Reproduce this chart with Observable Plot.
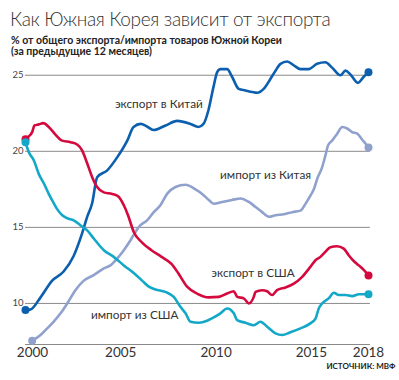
<!DOCTYPE html>
<html>
<head>
<meta charset="utf-8">
<script src="https://cdn.jsdelivr.net/npm/d3@7"></script>
<script src="https://cdn.jsdelivr.net/npm/@observablehq/plot@0.6"></script>
<style>
  html, body { margin: 0; padding: 0; background: #fff; }
  #wrap { position: relative; width: 399px; height: 380px; overflow: hidden; font-family: Lato, "Open Sans", sans-serif; }
  #title { position: absolute; left: 10px; top: 8px; font-size: 19px; line-height: 21px; font-weight: 300; letter-spacing: -0.35px; color: #333; white-space: nowrap; }
  #sub { position: absolute; left: 11px; top: 35px; font-size: 10.5px; line-height: 11px; font-weight: 700; color: #222; white-space: nowrap; }
  #chart { position: absolute; left: 0; top: 56px; }
</style>
</head>
<body>
<div id="wrap">
  <div id="title">Как Южная Корея зависит от экспорта</div>
  <div id="sub">% от общего экспорта/импорта товаров Южной Кореи<br>(за предыдущие 12 месяцев)</div>
  <div id="chart"></div>
</div>
<script>
// Export to China
const exportChinaYears = [2000.0,2000.26,2000.79,2001.4,2002.0,2002.52,2002.97,2003.24,2003.5,2003.76,2004.29,2004.81,2005.34,2005.67,2006.05,2006.35,2006.72,2007.35,2007.96,2008.66,2009.08,2009.34,2009.6,2009.86,2010.06,2010.23,2010.58,2010.84,2011.19,2011.54,2011.9,2012.16,2012.5,2012.85,2013.12,2013.38,2013.73,2014.08,2014.43,2014.86,2015.3,2015.74,2016.09,2016.53,2016.79,2017.05,2017.45,2017.75,2018.0];
const exportChinaValues = [9.56,9.6,10.4,11.5,12.1,13.1,14.6,15.7,16.6,18.3,18.75,19.6,20.7,21.6,21.8,21.65,21.4,21.7,22.0,21.8,21.6,21.8,22.7,24.2,25.2,25.4,25.4,24.9,24.1,24.0,23.9,23.85,24.1,24.75,25.3,25.75,25.9,25.65,25.4,25.4,25.75,25.85,25.5,25.0,25.3,25.05,24.5,24.9,25.2];

// Import from China
const importChinaYears = [2000.35,2000.79,2001.14,2001.48,2001.84,2002.19,2002.62,2003.06,2003.58,2004.11,2004.46,2004.81,2005.16,2005.51,2005.77,2006.03,2006.38,2006.73,2007.08,2007.43,2007.87,2008.4,2008.92,2009.27,2009.62,2009.88,2010.32,2010.84,2011.28,2011.72,2012.07,2012.42,2012.77,2013.12,2013.56,2014.0,2014.43,2014.7,2014.96,2015.13,2015.31,2015.57,2015.74,2015.88,2016.09,2016.36,2016.62,2016.88,2017.14,2017.41,2017.67,2017.85,2018.0];
const importChinaValues = [7.55,7.92,8.36,8.8,9.35,10.0,10.87,11.5,11.86,12.3,12.5,12.95,13.5,14.15,14.7,15.14,15.46,16.0,16.45,17.2,17.65,17.8,17.5,17.2,16.8,16.55,16.67,16.8,16.9,16.67,16.34,16.0,15.7,15.8,15.86,16.0,16.1,16.56,17.1,17.5,18.2,18.96,19.73,20.4,20.7,21.16,21.6,21.5,21.26,21.16,20.76,20.5,20.25];

// Export to USA
const exportUSAYears = [2000.0,2000.09,2000.35,2000.47,2000.7,2000.93,2001.22,2001.57,2001.92,2002.36,2002.71,2002.97,2003.24,2003.5,2003.76,2004.11,2004.55,2004.9,2005.16,2005.38,2005.68,2006.12,2006.61,2007.14,2007.66,2008.01,2008.48,2009.0,2009.62,2010.14,2010.58,2010.93,2011.11,2011.45,2011.72,2011.98,2012.07,2012.42,2012.68,2012.94,2013.2,2013.64,2014.08,2014.52,2014.95,2015.22,2015.48,2015.74,2016.0,2016.35,2016.7,2016.96,2017.14,2017.49,2017.75,2018.0];
const exportUSAValues = [20.8,20.9,21.26,21.7,21.77,21.85,21.6,21.1,20.7,20.6,20.45,20.06,19.2,18.3,17.65,17.3,17.2,17.0,16.45,15.8,14.7,14.0,13.5,13.06,12.6,12.0,11.1,10.65,10.4,10.43,10.65,10.8,10.43,10.33,10.0,10.43,10.76,10.87,10.8,10.55,10.87,11.05,11.3,11.75,12.4,12.84,13.06,13.4,13.7,13.76,13.6,13.17,12.9,12.5,12.2,11.84];

// Import from USA
const importUSAYears = [2000.0,2000.17,2000.44,2000.7,2000.96,2001.22,2001.48,2001.66,2001.93,2002.19,2002.53,2002.88,2003.24,2003.58,2004.11,2004.63,2005.16,2005.68,2006.12,2006.47,2006.82,2007.34,2007.78,2008.13,2008.4,2008.66,2009.1,2009.53,2009.88,2010.23,2010.58,2010.93,2011.11,2011.54,2011.98,2012.33,2012.68,2013.12,2013.47,2013.9,2014.43,2014.95,2015.22,2015.39,2015.57,2015.91,2016.18,2016.44,2016.79,2017.14,2017.49,2018.0];
const importUSAValues = [20.6,19.95,19.4,18.5,17.9,17.2,16.6,16.2,15.8,15.6,15.46,15.14,14.8,14.27,13.5,13.06,12.5,12.0,11.5,11.1,10.92,10.76,10.43,9.78,9.35,8.8,8.73,8.86,9.08,9.35,9.67,9.35,8.9,8.73,8.57,8.8,8.47,8.03,7.92,8.1,8.36,8.69,9.0,9.67,10.0,10.33,10.7,10.55,10.55,10.48,10.6,10.6];

const seriesNames = ["экспорт в Китай", "импорт из Китая", "экспорт в США", "импорт из США"];
const seriesColors = ["#0b5fae", "#8fa1cc", "#d4093e", "#13a8c8"];
const labelYears = [2007.0, 2012.6, 2011.94, 2005.73];
const labelValues = [23.1, 18.4, 12.0, 9.2];

const yTicks = [10, 15, 20, 25];
const xTicks = [2000, 2005, 2010, 2015, 2018];
const yBase = 7.3;
const sourceText = "ИСТОЧНИК: МВФ";

const yearArrays = [exportChinaYears, importChinaYears, exportUSAYears, importUSAYears];
const valueArrays = [exportChinaValues, importChinaValues, exportUSAValues, importUSAValues];
const rows = [];
seriesNames.forEach((name, i) => {
  yearArrays[i].forEach((yr, j) => rows.push({series: name, year: yr, value: valueArrays[i][j]}));
});
const ends = [];
seriesNames.forEach((name, i) => {
  const ys = yearArrays[i], vs = valueArrays[i];
  ends.push({series: name, year: ys[0], value: vs[0]});
  ends.push({series: name, year: ys[ys.length - 1], value: vs[vs.length - 1]});
});
const labels = seriesNames.map((name, i) => ({series: name, year: labelYears[i], value: labelValues[i]}));

const colorScale = {domain: seriesNames, range: seriesColors};

const chart = Plot.plot({
  width: 399,
  height: 324,
  marginLeft: 25,
  marginRight: 31,
  marginTop: 2,
  marginBottom: 36,
  style: {fontFamily: "Lato, 'Open Sans', sans-serif", background: "transparent", overflow: "visible"},
  x: {domain: [2000, 2018], axis: null},
  y: {domain: [yBase, 26.1], axis: null},
  color: colorScale,
  marks: [
    Plot.ruleY(yTicks, {x1: 2000, x2: 2018.1, stroke: "#8a8a8a", strokeWidth: 1}),
    Plot.ruleY([yBase], {x1: 2000, x2: 2018.1, stroke: "#8a8a8a", strokeWidth: 1}),
    Plot.axisY(yTicks, {tickSize: 0, tickPadding: 2, fontSize: 9.5, fill: "#444", label: null}),
    Plot.text(xTicks.filter(d => d === 2000), {x: d => d, text: d => String(d), frameAnchor: "bottom", dy: 12, dx: 7, fontSize: 13.5, fill: "#333"}),
    Plot.text(xTicks.filter(d => d !== 2000), {x: d => d, text: d => String(d), frameAnchor: "bottom", dy: 12, fontSize: 13.5, fill: "#333"}),
    Plot.line(rows, {x: "year", y: "value", z: "series", stroke: "series", strokeWidth: 2.6, curve: "monotone-x"}),
    Plot.dot(ends, {x: "year", y: "value", fill: "series", r: 4}),
    Plot.text(labels, {x: "year", y: "value", text: "series", fontSize: 11.8, fill: "#333"}),
    Plot.text([sourceText], {frameAnchor: "bottom-right", dx: 27, dy: 24, textAnchor: "end", fontSize: 8, fill: "#222", fontWeight: 700})
  ]
});
document.getElementById("chart").appendChild(chart);
</script>
</body>
</html>
